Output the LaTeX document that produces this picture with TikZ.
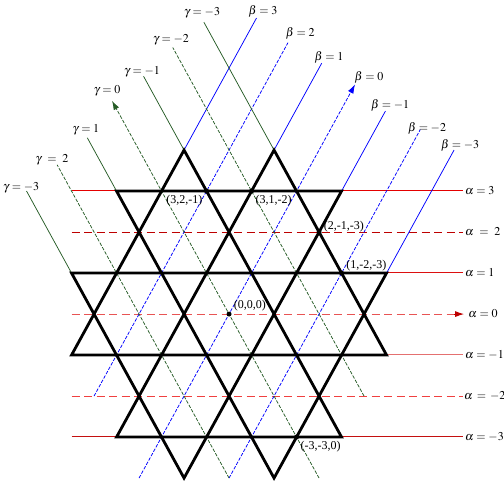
\documentclass[tikz,border=0pt]{standalone}
\usepackage{mathptmx}
\usepackage{fontspec}
\setmainfont{Liberation Serif}
\usetikzlibrary{arrows.meta,positioning}

\definecolor{leaf}{RGB}{38,92,38}
\definecolor{alphaA}{RGB}{228,0,0}
\definecolor{alphaB}{RGB}{190,0,0}
\definecolor{alphaC}{RGB}{220,16,16}
\definecolor{alphaD}{RGB}{232,84,84}
\definecolor{alphaE}{RGB}{228,112,112}
\definecolor{alphaF}{RGB}{240,64,64}
\definecolor{alphaG}{RGB}{196,16,16}

\tikzset{
  lattice/.style={line width=2.8pt, line join=miter},
  fineline/.style={line width=0.75pt},
  redline/.style={line width=1.3pt},
  fine dash/.style={dash pattern=on 3.5pt off 1.5pt},
  long dash/.style={line width=1pt, dash pattern=on 8pt off 4.5pt},
  tip/.style={-{Latex[length=9pt,width=6pt]}},
  dot/.style={circle, fill=black, inner sep=0pt, minimum size=5pt},
  coord/.style={inner sep=2pt},
  side/.style={right, inner sep=2pt},
}

\begin{document}
\begin{tikzpicture}[x=22.5pt, y=41pt, font=\fontsize{12}{14}\selectfont]
  \useasboundingbox (-10.18,-4.12) rectangle (12.22,7.66);

  % alpha lines
  \draw[redline, draw=alphaA] (-7,3.01) -- (-5,3.01);
  \draw[redline, draw=alphaA] (5,3.01) -- (10.4,3.01) coordinate (a3);
  \draw[long dash, draw=alphaB] (-7,2) -- (10.4,2) coordinate (a2);
  \draw[redline, draw=alphaC] (7,1.01) -- (10.4,1.01) coordinate (a1);
  \draw[long dash, draw=alphaD] (-7,0) -- (10,0);
  \draw[line width=1pt, draw=alphaB, fill=alphaB, tip] (10,0) -- (10.45,0) coordinate (a0);
  \draw[redline, draw=alphaE] (7,-0.99) -- (10.4,-0.99) coordinate (am1);
  \draw[long dash, draw=alphaF] (-7,-2) -- (10.4,-2) coordinate (am2);
  \draw[redline, draw=alphaG] (-7,-2.99) -- (-5,-2.99);
  \draw[redline, draw=alphaG] (5,-2.99) -- (10.4,-2.99) coordinate (am3);

  \node[side] (la3) at (a3) {$\alpha=3$};
  \node[side] (la2) at (a2) {$\alpha\ =\ 2$};
  \node[side] (la1) at (a1) {$\alpha=1$};
  \node[side, xshift=2pt] (la0) at (a0) {$\alpha=0$};
  \node[side] (lam1) at (am1) {$\alpha=-1$};
  \node[side, xshift=-1pt] (lam2) at (am2) {$\alpha\,=\,-2$};
  \node[side] (lam3) at (am3) {$\alpha=-3$};

  % beta lines
  \draw[fineline, blue] (-2,4) -- (1.22,7.22) coordinate (b3);
  \draw[fineline, blue, fine dash] (-6,-2) -- (2.62,6.62) coordinate (b2);
  \draw[fineline, blue] (2,4) -- (4.12,6.12) coordinate (b1);
  \draw[fineline, blue, fine dash, tip] (-4,-4) -- (5.6,5.6) coordinate (b0);
  \draw[fineline, blue] (5,3) -- (6.95,4.95) coordinate (bm1);
  \draw[fineline, blue, fine dash] (0,-4) -- (8.5,4.5) coordinate (bm2);
  \draw[fineline, blue] (7,1) -- (10,4) coordinate (bm3);

  \node (lb3) at (1.51,7.39) {$\beta=3$};
  \node (lb2) at (3.16,6.85) {$\beta=2$};
  \node (lb1) at (4.44,6.27) {$\beta=1$};
  \node (lb0) at (6.22,5.78) {$\beta=0$};
  \node (lbm1) at (7.16,5.10) {$\beta=-1$};
  \node (lbm2) at (8.80,4.54) {$\beta=-2$};
  \node (lbm3) at (10.27,4.12) {$\beta=-3$};

  % gamma lines
  \draw[fineline, leaf] (2,4) -- (-1.12,7.12) coordinate (gm3);
  \draw[fineline, leaf, fine dash] (6,-2) -- (-2.5,6.5) coordinate (gm2);
  \draw[fineline, leaf] (-2,4) -- (-3.8,5.8) coordinate (gm1);
  \draw[fineline, leaf, fine dash, tip] (4,-4) -- (-5.2,5.2) coordinate (g0);
  \draw[fineline, leaf] (-5,3) -- (-6.3,4.3) coordinate (g1);
  \draw[fineline, leaf, fine dash] (0,-4) -- (-7.64,3.64) coordinate (g2);
  \draw[fineline, leaf] (-7,1) -- (-9,3) coordinate (g3);

  \node (lgm3) at (-1.20,7.34) {$\gamma=-3$};
  \node (lgm2) at (-2.58,6.68) {$\gamma=-2$};
  \node (lgm1) at (-3.87,5.90) {$\gamma=-1$};
  \node (lg0) at (-5.42,5.44) {$\gamma=0$};
  \node (lg1) at (-6.36,4.49) {$\gamma=1$};
  \node (lg2) at (-7.87,3.76) {$\gamma\ =\ 2$};
  \node (lg3) at (-9.24,3.07) {$\gamma=-3$};

  % the lattice
  \draw[lattice] (-7,-1) -- (-2,4) -- (5,-3) -- (-5,-3) -- (2,4) -- (7,-1) -- cycle;
  \draw[lattice] (-7,1) -- (-2,-4) -- (5,3) -- (-5,3) -- (2,-4) -- (7,1) -- cycle;

  % marked points
  \node[dot] (p321) at (-1,3) {};
  \node[dot] (p312) at (1,3) {};
  \node[dot] (p213) at (4,2) {};
  \node[dot] (p123) at (5,1) {};
  \node[dot] (p000) at (0,0) {};
  \node[dot] (p330) at (3,-3) {};

  \node[coord, below left=0pt of p321] (t321) {(3,2,-1)};
  \node[coord, below right=0pt of p312] (t312) {(3,1,-2)};
  \node[coord, right=0pt of p213, yshift=5pt] (t213) {(2,-1,-3)};
  \node[coord, right=0pt of p123, yshift=7pt] (t123) {(1,-2,-3)};
  \node[coord, right=0pt of p000, yshift=8pt] (t000) {(0,0,0)};
  \node[coord, below right=0pt of p330] (t330) {(-3,-3,0)};
\end{tikzpicture}
\end{document}
